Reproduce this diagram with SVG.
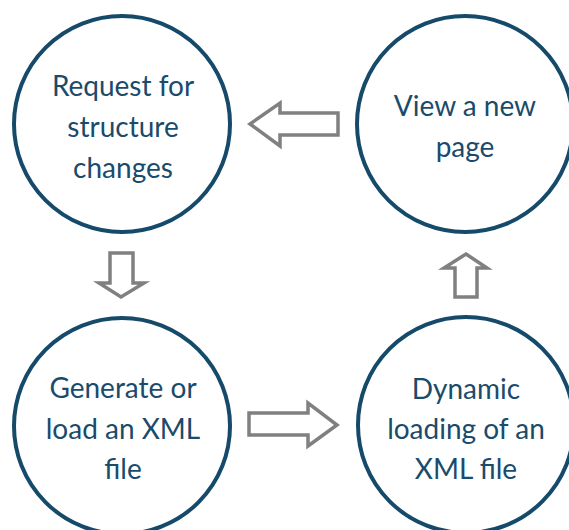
<svg xmlns="http://www.w3.org/2000/svg" width="569" height="530" viewBox="0 0 569 530">
  <style>
    .node circle { fill: #ffffff; stroke: #154a6b; stroke-width: 4; }
    .node text { font-family: Lato, "Open Sans", sans-serif; font-size: 28px; fill: #1a4b6b; text-anchor: middle; }
    .flow { fill: #ffffff; stroke: #808080; stroke-width: 3.5; stroke-linejoin: miter; }
  </style>
  <rect width="569" height="530" fill="#ffffff"/>

  <g id="request-changes" class="node">
    <circle cx="122" cy="124" r="108"/>
    <text x="123" y="96">Request for</text>
    <text x="123" y="137">structure</text>
    <text x="123" y="178">changes</text>
  </g>

  <g id="view-page" class="node">
    <circle cx="465" cy="124" r="108"/>
    <text x="465" y="116">View a new</text>
    <text x="465" y="157">page</text>
  </g>

  <g id="generate-xml" class="node">
    <circle cx="122" cy="426" r="108"/>
    <text x="123" y="398">Generate or</text>
    <text x="123" y="439">load an XML</text>
    <text x="123" y="479">file</text>
  </g>

  <g id="dynamic-loading" class="node">
    <circle cx="466" cy="425" r="108"/>
    <text x="466" y="399">Dynamic</text>
    <text x="466" y="439">loading of an</text>
    <text x="466" y="479">XML file</text>
  </g>

  <g id="connectors">
    <!-- view page -> request changes -->
    <polygon class="flow" points="338,113 280,113 280,103 250,124 280,146 280,135 338,135"/>
    <!-- request changes -> generate xml -->
    <polygon class="flow" points="110,253 133,253 133,283 144,283 121,297 99,283 110,283"/>
    <!-- generate xml -> dynamic loading -->
    <polygon class="flow" points="249,413 308,413 308,403 337,425 308,446 308,435 249,435"/>
    <!-- dynamic loading -> view page -->
    <polygon class="flow" points="466,254 487,268 477,268 477,297 455,297 455,268 444,268"/>
  </g>
</svg>
